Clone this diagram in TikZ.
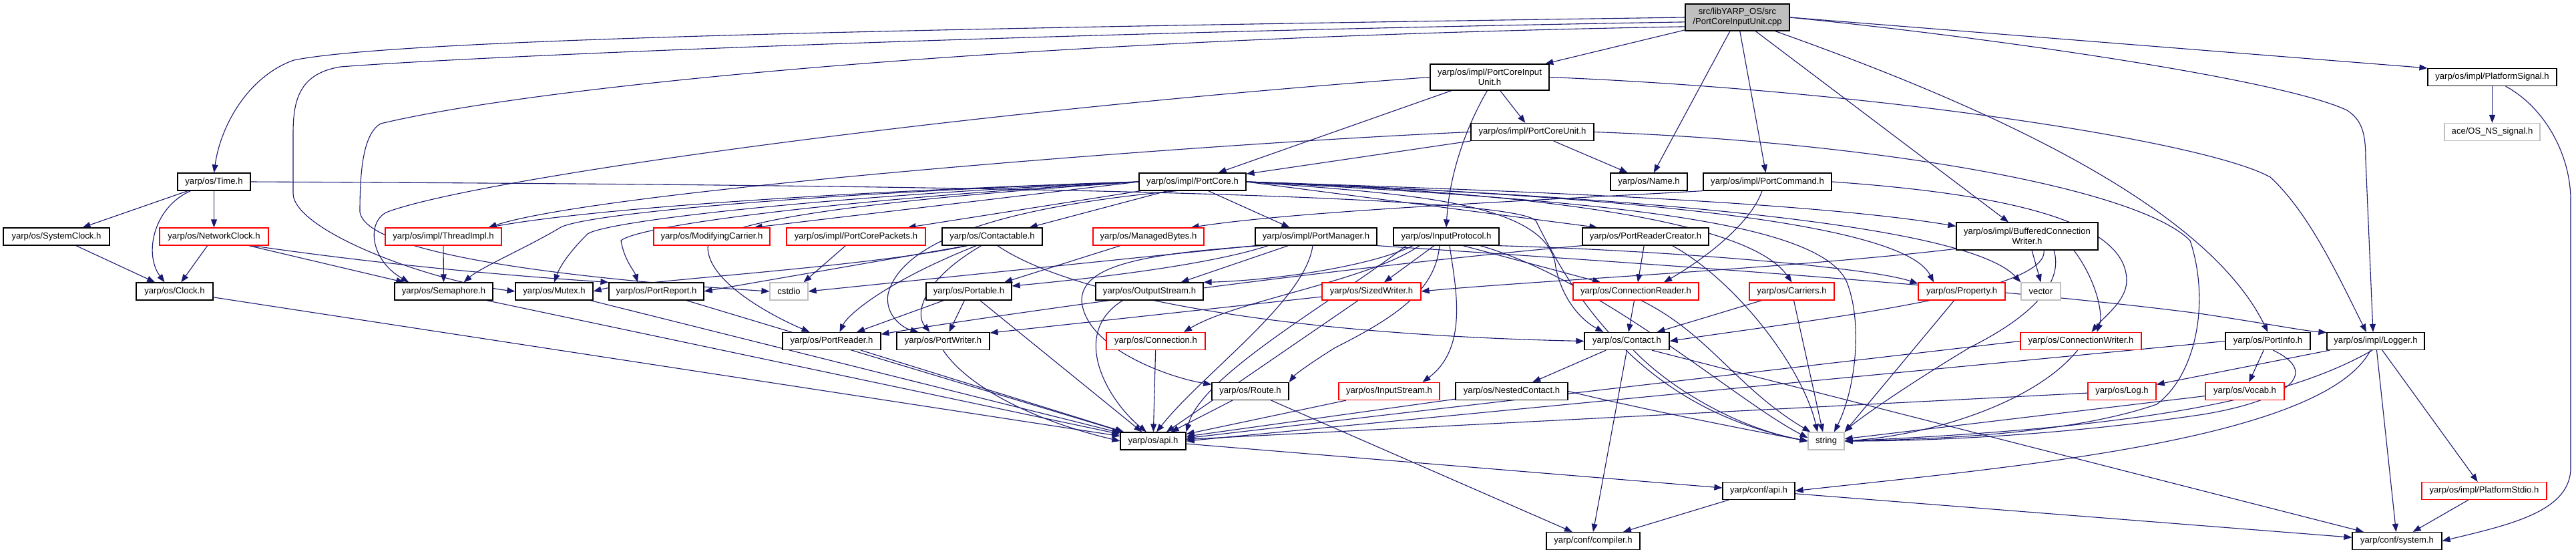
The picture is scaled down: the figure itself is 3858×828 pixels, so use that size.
\documentclass[tikz,border=0pt]{standalone}
\usepackage{fontspec}
\newfontfamily\dfont{Liberation Sans}
\usetikzlibrary{arrows.meta,backgrounds}
\definecolor{edgec}{HTML}{191970}
\definecolor{rootgray}{HTML}{BFBFBF}
\definecolor{lgray}{HTML}{C0C0C0}
\tikzset{
  nd/.style={draw=black, fill=white, line width=1.2pt, inner sep=0pt, minimum height=26pt, font=\dfont\fontsize{13.1pt}{15pt}\selectfont, align=center, text=black},
  rnd/.style={nd, draw=red},
  gnd/.style={nd, draw=lgray},
  e/.style={draw=edgec, line width=1.1pt, -{Triangle[length=12pt,width=9pt]}},
}
\begin{document}
\begin{tikzpicture}[x=1pt,y=-1pt]
\useasboundingbox (0,0) rectangle (3858,828);
% ---------- nodes ----------
\node[nd, fill=rootgray, minimum width=156pt, minimum height=40pt] (root) at (2602,26) {src/libYARP\_OS/src\\/PortCoreInputUnit.cpp};
\node[nd, minimum width=178pt, minimum height=39pt] (pciu) at (2231,115.5) {yarp/os/impl/PortCoreInput\\Unit.h};
\node[nd, minimum width=193pt] (psig) at (3732.5,115.5) {yarp/os/impl/PlatformSignal.h};
\node[nd, minimum width=184pt] (pcu) at (2295,197.5) {yarp/os/impl/PortCoreUnit.h};
\node[gnd, minimum width=143pt] (osns) at (3732.5,197.5) {ace/OS\_NS\_signal.h};
\node[nd, minimum width=109pt] (time) at (320.5,272) {yarp/os/Time.h};
\node[nd, minimum width=160pt] (portcore) at (1786,272) {yarp/os/impl/PortCore.h};
\node[nd, minimum width=115pt] (name) at (2469.5,272) {yarp/os/Name.h};
\node[nd, minimum width=192pt] (portcmd) at (2647,272) {yarp/os/impl/PortCommand.h};
\node[nd, minimum width=159pt] (sysclock) at (84.5,354) {yarp/os/SystemClock.h};
\node[rnd, minimum width=163pt] (netclock) at (320.5,354) {yarp/os/NetworkClock.h};
\node[rnd, minimum width=174pt] (threadimpl) at (664,354) {yarp/os/impl/ThreadImpl.h};
\node[rnd, minimum width=174pt] (modcarrier) at (1066,354) {yarp/os/ModifyingCarrier.h};
\node[rnd, minimum width=208pt] (pcpackets) at (1282,354) {yarp/os/impl/PortCorePackets.h};
\node[nd, minimum width=150pt] (contactable) at (1486,354) {yarp/os/Contactable.h};
\node[rnd, minimum width=166pt] (managedbytes) at (1720,354) {yarp/os/ManagedBytes.h};
\node[nd, minimum width=182pt] (portmanager) at (1971,354) {yarp/os/impl/PortManager.h};
\node[nd, minimum width=158pt] (inputprotocol) at (2166,354) {yarp/os/InputProtocol.h};
\node[nd, minimum width=189pt] (prcreator) at (2464.5,354) {yarp/os/PortReaderCreator.h};
\node[nd, minimum width=212pt, minimum height=41pt] (bcw) at (3036,353.5) {yarp/os/impl/BufferedConnection\\Writer.h};
\node[nd, minimum width=115pt] (clock) at (261.5,436) {yarp/os/Clock.h};
\node[nd, minimum width=147pt] (semaphore) at (664.5,436) {yarp/os/Semaphore.h};
\node[nd, minimum width=116pt] (mutex) at (830,436) {yarp/os/Mutex.h};
\node[nd, minimum width=142pt] (portreport) at (983,436) {yarp/os/PortReport.h};
\node[gnd, minimum width=57pt] (cstdio) at (1181.5,436) {cstdio};
\node[nd, minimum width=128pt] (portable) at (1451,436) {yarp/os/Portable.h};
\node[nd, minimum width=161pt] (outputstream) at (1721.5,436) {yarp/os/OutputStream.h};
\node[rnd, minimum width=148pt] (sizedwriter) at (2054,436) {yarp/os/SizedWriter.h};
\node[rnd, minimum width=188pt] (connreader) at (2450,436) {yarp/os/ConnectionReader.h};
\node[rnd, minimum width=127pt] (carriers) at (2683.5,436) {yarp/os/Carriers.h};
\node[rnd, minimum width=130pt] (property) at (2938,436) {yarp/os/Property.h};
\node[gnd, minimum width=59pt] (vector) at (3056.5,436) {vector};
\node[nd, minimum width=147pt] (portreader) at (1245.5,510.5) {yarp/os/PortReader.h};
\node[nd, minimum width=139pt] (portwriter) at (1412.5,510.5) {yarp/os/PortWriter.h};
\node[rnd, minimum width=148pt] (connection) at (1731,510.5) {yarp/os/Connection.h};
\node[nd, minimum width=127pt] (contact) at (2436.5,510.5) {yarp/os/Contact.h};
\node[rnd, minimum width=181pt] (connwriter) at (3116.5,510.5) {yarp/os/ConnectionWriter.h};
\node[nd, minimum width=127pt] (portinfo) at (3396.5,510.5) {yarp/os/PortInfo.h};
\node[nd, minimum width=146pt] (logger) at (3558,510.5) {yarp/os/impl/Logger.h};
\node[nd, minimum width=115pt] (route) at (1872.5,585.5) {yarp/os/Route.h};
\node[rnd, minimum width=151pt] (inputstream) at (2080.5,585.5) {yarp/os/InputStream.h};
\node[nd, minimum width=168pt] (nestedcontact) at (2264,585.5) {yarp/os/NestedContact.h};
\node[rnd, minimum width=102pt] (log) at (3178,585.5) {yarp/os/Log.h};
\node[rnd, minimum width=118pt] (vocab) at (3362,585.5) {yarp/os/Vocab.h};
\node[nd, minimum width=98pt] (osapi) at (1727,660) {yarp/os/api.h};
\node[gnd, minimum width=54pt] (string) at (2735,660) {string};
\node[nd, minimum width=108pt] (confapi) at (2634,734.5) {yarp/conf/api.h};
\node[rnd, minimum width=187pt] (platstdio) at (3720.5,734.5) {yarp/os/impl/PlatformStdio.h};
\node[nd, minimum width=140pt] (compiler) at (2386,809.5) {yarp/conf/compiler.h};
\node[nd, minimum width=134pt] (system) at (3590,809.5) {yarp/conf/system.h};
% ---------- edges ----------
\begin{scope}[on background layer]
\fill[white] (0,0) rectangle (3858,828);
% root
\draw[e] (root) -- (pciu);
\draw[e] (root.west) .. controls (1400,42) and (600,58) .. (440,90) .. controls (370,115) and (330,190) .. (time.north);
\draw[e] (root.185) .. controls (1500,50) and (700,85) .. (510,100) .. controls (448,110) and (439,150) .. (439,200) -- (439,290) .. controls (441,345) and (640,420) .. (mutex.west);
\draw[e] (root.190) .. controls (1500,58) and (800,130) .. (570,185) .. controls (545,200) and (539,250) .. (539,317) .. controls (548,385) and (900,420) .. (cstdio.west);
\draw[e] (root) -- (name);
\draw[e] (root) -- (portcmd);
\draw[e] (root) -- (bcw);
\draw[e] (root.east) -- (psig.north west);
\draw[e] (root.east) .. controls (3000,58) and (3420,120) .. (3515,165) .. controls (3538,180) and (3543,200) .. (3543,240) -- ([xshift=-4pt]logger.north);
\draw[e] (root.340) .. controls (2950,150) and (3300,300) .. (portinfo.north);
% pciu
\draw[e] (pciu) -- (pcu);
\draw[e] (pciu) -- (portcore);
\draw[e] (pciu.260) .. controls (2190,200) and (2170,270) .. (inputprotocol.north);
\draw[e] (pciu.east) .. controls (2800,135) and (3300,210) .. (3400,265) .. controls (3460,320) and (3505,420) .. ([xshift=-14pt]logger.north);
\draw[e] (pciu.west) .. controls (1400,170) and (700,270) .. (578,318) .. controls (548,335) and (556,390) .. ([xshift=22pt]semaphore.north west);
% psig
\draw[e] (psig) -- (osns);
\draw[e] ([xshift=20pt]psig.south) .. controls (3810,160) and (3850,230) .. (3850,300) -- (3850,700) .. controls (3850,765) and (3760,785) .. (system.east);
% pcu
\draw[e] (pcu) -- (portcore);
\draw[e] (pcu) -- (name);
\draw[e] (pcu.west) .. controls (1800,215) and (900,285) .. ([xshift=-20pt]threadimpl.north east);
\draw[e] (pcu.east) .. controls (2800,212) and (3200,280) .. (3280,360) .. controls (3310,450) and (3290,560) .. (3230,605) .. controls (3100,650) and (2900,657) .. (string.east);
% time
\draw[e] (time) -- (sysclock);
\draw[e] (time) -- (netclock);
\draw[e] ([xshift=-35pt]time.south) .. controls (230,310) and (215,380) .. ([xshift=-15pt]clock.north);
\draw[e] (time.east) .. controls (1200,276) and (2250,285) .. (2300,330) .. controls (2350,430) and (2450,610) .. (string.west);
% clocks
\draw[e] (sysclock) -- (clock);
\draw[e] (netclock) -- (clock);
\draw[e] ([xshift=-30pt]netclock.south east) -- ([xshift=15pt]semaphore.north west);
\draw[e] ([xshift=-25pt]netclock.south east) .. controls (600,400) and (800,415) .. (portreport.north west);
\draw[e] (clock) -- (osapi);
\draw[e] (threadimpl) -- (semaphore);
% portcore
\draw[e] (portcore.west) .. controls (1300,285) and (900,310) .. ([xshift=-20pt]threadimpl.north east);
\draw[e] (portcore.west) .. controls (1200,290) and (880,320) .. (840,340) .. controls (790,370) and (720,400) .. ([xshift=-44pt]semaphore.north east);
\draw[e] (portcore.west) .. controls (1250,292) and (910,330) .. (880,350) .. controls (850,380) and (838,400) .. (mutex.north);
\draw[e] (portcore.west) .. controls (1300,295) and (960,335) .. (930,360) .. controls (935,390) and (950,405) .. ([xshift=-28pt]portreport.north);
\draw[e] (portcore.west) -- ([xshift=-24pt]modcarrier.north east);
\draw[e] (portcore.190) -- ([xshift=-27pt]pcpackets.north east);
\draw[e] (portcore.200) -- ([xshift=-20pt]contactable.north east);
\draw[e] (portcore.330) -- ([xshift=52pt]portmanager.north west);
\draw[e] (portcore.east) -- ([xshift=23pt]prcreator.north west);
\draw[e] (portcore.east) .. controls (2200,283) and (2700,300) .. (bcw.172);
\draw[e] (portcore.east) .. controls (2300,288) and (2620,330) .. (carriers.north);
\draw[e] (portcore.east) .. controls (2400,292) and (2850,330) .. ([xshift=-42pt]property.north);
\draw[e] (portcore.east) .. controls (2500,296) and (2950,340) .. (vector.north west);
\draw[e] (portcore.east) .. controls (2400,300) and (2720,330) .. (2765,420) .. controls (2790,480) and (2780,580) .. ([xshift=12pt]string.north);
\draw[e] (portcore.east) .. controls (2100,290) and (2320,300) .. (2330,400) .. controls (2340,450) and (2370,480) .. ([xshift=-35pt]contact.north);
\draw[e] (portcore.west) .. controls (1300,300) and (1070,330) .. (1060,370) .. controls (1060,420) and (1150,470) .. ([xshift=-33pt]portreader.north);
\draw[e] (portcore.210) .. controls (1500,310) and (1350,360) .. (1330,440) .. controls (1325,470) and (1350,490) .. ([xshift=-37pt]portwriter.north);
% portcmd
\draw[e] (portcmd.south west) .. controls (2300,300) and (1950,315) .. ([xshift=-20pt]managedbytes.north east);
\draw[e] ([xshift=-8pt]portcmd.south) .. controls (2620,340) and (2540,395) .. ([xshift=42pt]connreader.north);
\draw[e] (portcmd.east) .. controls (3000,290) and (3185,330) .. (3185,420) .. controls (3185,450) and (3150,475) .. ([xshift=16pt]connwriter.north);
% misc rank 4
\draw[e] (pcpackets) -- ([xshift=22pt]cstdio.north);
\draw[e] (contactable.200) -- (portreport.east);
\draw[e] (contactable.200) .. controls (1300,400) and (950,420) .. (mutex.east);
\draw[e] (contactable.210) .. controls (1330,420) and (1270,470) .. ([xshift=12pt]portreader.north);
\draw[e] (contactable.220) .. controls (1380,420) and (1370,470) .. ([xshift=-20pt]portwriter.north);
\draw[e] (contactable.300) .. controls (1600,440) and (1900,500) .. (contact.west);
\draw[e] ([xshift=-42pt]managedbytes.south) -- ([xshift=53pt]portable.north);
\draw[e] (portmanager.south west) -- (cstdio.east);
\draw[e] ([xshift=20pt]portmanager.south west) .. controls (1800,400) and (1600,420) .. ([yshift=8pt]portable.east);
\draw[e] ([xshift=50pt]portmanager.south west) -- ([xshift=47pt]outputstream.north);
\draw[e] ([xshift=10pt]portmanager.south west) .. controls (1700,380) and (1620,400) .. (1620,450) .. controls (1625,520) and (1750,565) .. (route.170);
\draw[e] ([xshift=-5pt]portmanager.south) .. controls (1955,450) and (1800,560) .. ([xshift=5pt]osapi.north);
\draw[e] (portmanager.south east) .. controls (2400,390) and (3000,430) .. (3300,470) .. controls (3400,485) and (3450,495) .. (logger.170);
\draw[e] ([xshift=-50pt]inputprotocol.south) .. controls (2050,400) and (1900,420) .. (outputstream.north east);
\draw[e] ([xshift=-40pt]inputprotocol.south) .. controls (2050,420) and (1850,450) .. ([xshift=42pt]connection.north);
\draw[e] ([xshift=-18pt]inputprotocol.south) -- ([xshift=19pt]sizedwriter.north);
\draw[e] ([xshift=-10pt]inputprotocol.south) .. controls (2150,430) and (2100,470) .. (2000,520) .. controls (1960,545) and (1940,560) .. (route.north east);
\draw[e] ([xshift=5pt]inputprotocol.south) .. controls (2180,430) and (2200,520) .. ([xshift=50pt]inputstream.north);
\draw[e] ([xshift=25pt]inputprotocol.south) -- ([xshift=-53pt]connreader.north);
\draw[e] (inputprotocol.350) .. controls (2500,375) and (2800,400) .. (property.170);
\draw[e] (inputprotocol.345) .. controls (2400,420) and (2600,600) .. (string.170);
\draw[e] ([xshift=-60pt]inputprotocol.south) .. controls (2000,450) and (1800,560) .. (osapi.north east);
\draw[e] (prcreator.south west) .. controls (2000,400) and (1500,470) .. (portreader.8);
\draw[e] (prcreator) -- ([xshift=3pt]connreader.north);
\draw[e] ([xshift=40pt]prcreator.south) .. controls (2600,420) and (2700,550) .. ([xshift=-13pt]string.north);
\draw[e] (bcw.190) .. controls (2700,400) and (2300,420) .. (sizedwriter.east);
\draw[e] ([xshift=7pt]bcw.south) -- (vector.north);
\draw[e] ([xshift=70pt]bcw.south) .. controls (3140,420) and (3150,470) .. ([xshift=24pt]connwriter.north);
\draw[e] ([xshift=40pt]bcw.south) .. controls (3090,420) and (3050,470) .. (2950,520) .. controls (2850,580) and (2780,630) .. (string.north east);
\draw[e] ([xshift=25pt]bcw.south) .. controls (3070,440) and (2700,480) .. (contact.east);
% rank 5/6 to bottom
\draw[e] (semaphore) -- (osapi);
\draw[e] (mutex) -- (osapi);
\draw[e] (portreport) -- (osapi);
\draw[e] (portreader) -- (osapi);
\draw[e] (portwriter.south) .. controls (1450,580) and (1550,630) .. (osapi.west);
\draw[e] (portable) -- (portreader);
\draw[e] (portable) -- ([xshift=9pt]portwriter.north);
\draw[e] (portable) -- (osapi);
\draw[e] ([xshift=-40pt]outputstream.south) .. controls (1600,500) and (1660,600) .. ([xshift=-10pt]osapi.north);
\draw[e] (connection) -- (osapi);
\draw[e] (sizedwriter) -- (portwriter.10);
\draw[e] (sizedwriter) -- (osapi);
\draw[e] (connreader) -- (contact);
\draw[e] (connreader.300) .. controls (2560,500) and (2600,580) .. (string.150);
\draw[e] (carriers) -- (contact);
\draw[e] (carriers) -- ([xshift=-5pt]string.north);
\draw[e] (property) -- (string.north east);
\draw[e] (contact) -- (nestedcontact);
\draw[e] (contact.south) -- (compiler.north);
\draw[e] ([xshift=10pt]contact.south) .. controls (2500,580) and (2600,640) .. (string.west);
\draw[e] (contact.340) -- ([xshift=-50pt]system.north);
\draw[e] ([xshift=-5pt]connwriter.south) .. controls (3050,600) and (2900,650) .. (string.east);
\draw[e] (connwriter.west) -- (osapi.5);
\draw[e] (portinfo) -- (vocab);
\draw[e] (portinfo.300) .. controls (3480,560) and (3420,600) .. (3300,620) .. controls (3100,650) and (2900,660) .. (string.east);
\draw[e] (portinfo.west) -- (osapi.0);
\draw[e] (logger) -- (log);
\draw[e] (logger) -- (platstdio);
\draw[e] (logger) -- (system);
\draw[e] (logger.240) .. controls (3480,660) and (3000,700) .. (confapi.east);
\draw[e] (logger.250) .. controls (3420,600) and (3200,640) .. (string.east);
\draw[e] (route) -- (osapi);
\draw[e] (route) -- (compiler);
\draw[e] (inputstream) -- (osapi);
\draw[e] (nestedcontact) -- (osapi);
\draw[e] (nestedcontact.east) .. controls (2450,610) and (2600,640) .. (string.west);
\draw[e] (log) -- (osapi);
\draw[e] (vocab) -- (string);
\draw[e] (osapi) -- (confapi);
\draw[e] (confapi) -- (compiler);
\draw[e] (confapi) -- (system);
\draw[e] (platstdio) -- (system);
\end{scope}
\end{tikzpicture}
\end{document}
